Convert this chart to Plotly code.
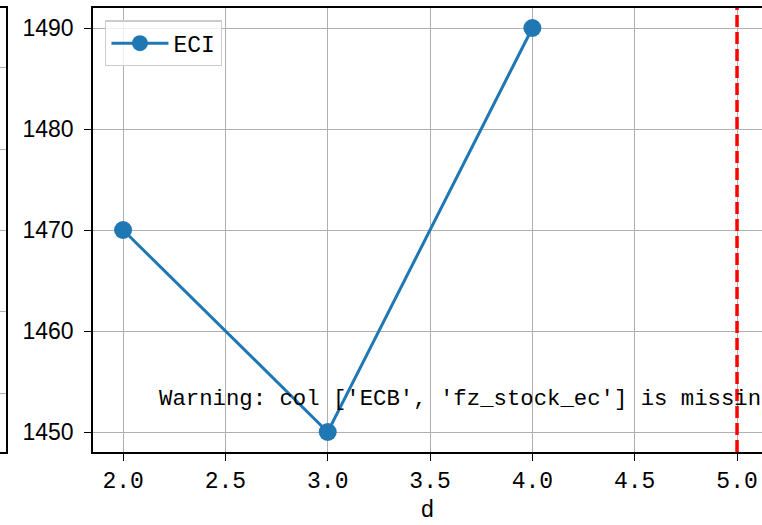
import plotly.graph_objects as go

# ---- data ----
x_vals = [2.0, 3.0, 4.0]
eci_vals = [1470, 1450, 1490]
series_name = "ECI"
vline_x = 5.0
warning_text = "Warning: col ['ECB', 'fz_stock_ec'] is missing"
warning_pos = (2.165, 1453.3)
x_ticks = [2.0, 2.5, 3.0, 3.5, 4.0, 4.5, 5.0]
y_ticks = [1450, 1460, 1470, 1480, 1490]
x_label = "d"

BLUE = "#1f77b4"
GRID = "#b0b0b0"
W = 762
LEFT_PX = 93

fig = go.Figure()

fig.add_trace(go.Scatter(
    x=x_vals, y=eci_vals, name=series_name, mode="lines+markers",
    line=dict(color=BLUE, width=3),
    marker=dict(color=BLUE, size=18),
))

# partial neighbouring panel at far left (only its right edge is visible)
fig.add_trace(go.Scatter(x=[0], y=[0], xaxis="x2", yaxis="y2",
                         mode="markers", marker=dict(opacity=0),
                         showlegend=False, hoverinfo="skip"))

fig.add_shape(type="line", xref="x", yref="y domain", x0=vline_x, x1=vline_x,
              y0=0, y1=1, line=dict(color="red", width=3.5, dash="12px,5px"))

fig.add_annotation(x=warning_pos[0], y=warning_pos[1], text=warning_text,
                   xref="x", yref="y", showarrow=False, xanchor="left",
                   yanchor="middle",
                   font=dict(family="Liberation Mono", size=22.3, color="black"))

fig.update_layout(
    width=W, height=525,
    margin=dict(l=0, r=0, t=8, b=73),
    paper_bgcolor="white", plot_bgcolor="white",
    showlegend=True,
    legend=dict(x=0.138, y=0.972, xanchor="left", yanchor="top",
                bgcolor="rgba(255,255,255,0.8)", bordercolor="#cccccc",
                borderwidth=1.3, itemwidth=57, entrywidth=150,
                font=dict(family="Liberation Mono", size=23, color="black")),
    xaxis=dict(domain=[LEFT_PX / W, 1], range=[1.853, 5.122],
               tickvals=x_ticks, ticktext=[f"{v:.1f}" for v in x_ticks],
               showgrid=True, gridcolor=GRID, gridwidth=1.3,
               zeroline=False, showline=True, mirror=True,
               linecolor="black", linewidth=1.6,
               ticks="outside", ticklen=7, tickwidth=1.3, tickcolor="black",
               tickfont=dict(family="Liberation Mono", size=23, color="black"),
               title=dict(text=x_label, standoff=6,
                          font=dict(family="Liberation Mono", size=23, color="black"))),
    yaxis=dict(range=[1448.02, 1491.98], tickvals=y_ticks,
               showgrid=True, gridcolor=GRID, gridwidth=1.3,
               zeroline=False, showline=True, mirror=False,
               linecolor="black", linewidth=1.6,
               ticks="outside", ticklen=7, tickwidth=1.3, tickcolor="black",
               ticklabelstandoff=6,
               tickfont=dict(family="Liberation Sans", size=23, color="black")),
    xaxis2=dict(domain=[0, 0.0085], range=[0, 1], anchor="y2",
                showgrid=False, zeroline=False, showticklabels=False,
                showline=True, mirror=True, linecolor="black", linewidth=1.6,
                ticks=""),
    yaxis2=dict(anchor="x2", side="right", range=[-0.726, 4.738], dtick=1,
                showgrid=True, gridcolor=GRID, gridwidth=1.3,
                zeroline=False, showticklabels=False,
                showline=True, mirror=False, linecolor="black", linewidth=1.6,
                ticks=""),
)

fig.write_html("out.html", config={"displayModeBar": False},
               post_script="document.body.style.margin='0px';")
